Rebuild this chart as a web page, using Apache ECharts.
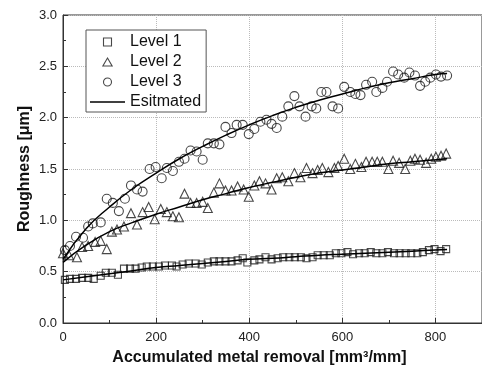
<!DOCTYPE html>
<html><head><meta charset="utf-8">
<script src="https://cdn.jsdelivr.net/npm/echarts@6/dist/echarts.min.js"></script>
<style>html,body{margin:0;padding:0;background:#fff}#c{width:482px;height:379px}</style>
</head><body><div id="c"></div>
<script>
// Level 1 (squares)
const level1X = [4,15,28,41,54,66,81,92,105,118,131,144,156,169,180,193,206,219,234,244,257,270,285,298,311,324,336,349,362,375,386,396,411,422,435,448,461,473,486,498,511,523,536,547,560,573,586,598,611,623,636,648,661,673,686,698,711,723,736,748,761,773,786,798,811,823];
const level1Y = [0.42,0.43,0.43,0.44,0.44,0.43,0.46,0.49,0.49,0.47,0.53,0.53,0.53,0.54,0.55,0.55,0.55,0.56,0.56,0.55,0.57,0.58,0.58,0.57,0.59,0.60,0.60,0.60,0.60,0.61,0.63,0.59,0.61,0.62,0.64,0.62,0.63,0.64,0.64,0.64,0.64,0.63,0.64,0.66,0.66,0.66,0.68,0.68,0.69,0.67,0.68,0.68,0.69,0.68,0.68,0.69,0.68,0.68,0.68,0.68,0.68,0.69,0.71,0.72,0.70,0.72];
// Level 2 (triangles)
const level2X = [0,13,30,41,54,69,81,94,105,116,131,146,159,171,184,197,210,223,236,249,261,274,287,300,311,324,336,349,362,375,388,399,411,422,435,448,459,471,484,497,510,523,536,547,557,570,583,591,604,617,628,641,651,664,675,686,699,709,722,735,746,756,767,780,791,801,812,823];
const level2Y = [0.68,0.66,0.64,0.74,0.75,0.79,0.80,0.72,0.89,0.91,0.94,1.07,0.96,1.08,1.13,1.01,1.11,1.08,1.04,1.03,1.26,1.17,1.17,1.18,1.12,1.27,1.36,1.29,1.29,1.33,1.30,1.23,1.34,1.38,1.36,1.30,1.41,1.42,1.38,1.46,1.42,1.51,1.46,1.49,1.51,1.47,1.51,1.53,1.60,1.50,1.55,1.52,1.57,1.57,1.57,1.57,1.50,1.58,1.56,1.50,1.58,1.60,1.59,1.56,1.60,1.62,1.63,1.65];
// Level 3 (circles)
const level3X = [4,15,28,43,54,64,81,94,107,120,133,146,159,171,186,199,212,223,236,249,261,274,287,300,311,324,336,349,362,373,386,399,411,424,437,448,459,471,484,497,508,521,534,544,555,566,579,591,604,617,628,639,651,664,673,686,696,709,720,733,744,756,767,778,789,801,812,825];
const level3Y = [0.71,0.75,0.84,0.83,0.94,0.97,0.98,1.21,1.17,1.09,1.21,1.34,1.30,1.28,1.50,1.52,1.41,1.51,1.48,1.57,1.60,1.68,1.67,1.59,1.75,1.75,1.74,1.91,1.85,1.93,1.93,1.84,1.89,1.96,1.98,1.94,1.90,2.01,2.11,2.21,2.11,2.01,2.11,2.09,2.25,2.25,2.11,2.09,2.30,2.25,2.23,2.22,2.32,2.35,2.25,2.29,2.35,2.45,2.42,2.39,2.44,2.41,2.31,2.35,2.39,2.42,2.40,2.41];
// Estimated curves
const estX = [0,50,100,150,200,250,300,350,400,450,500,550,600,650,700,750,800,825];
const est1Y = [0.42,0.45,0.48,0.51,0.54,0.56,0.58,0.60,0.62,0.63,0.645,0.66,0.67,0.68,0.69,0.70,0.71,0.715];
const est2Y = [0.59,0.76,0.89,0.98,1.06,1.13,1.20,1.26,1.32,1.37,1.42,1.46,1.49,1.52,1.55,1.57,1.59,1.60];
const est3Y = [0.62,0.92,1.13,1.31,1.46,1.60,1.72,1.83,1.93,2.02,2.10,2.17,2.23,2.29,2.34,2.38,2.42,2.43];
const xTicks = [0,200,400,600,800];
const yTicks = [0.0,0.5,1.0,1.5,2.0,2.5,3.0];

const zip = (xs, ys) => xs.map((x, i) => [x, ys[i]]);
const mk = {color:'rgba(255,255,255,0)', borderColor:'#1a1a1a', borderWidth:1.1};
const legendMk = {color:'rgba(255,255,255,0)', borderColor:'#1a1a1a', borderWidth:1.1};
const chart = echarts.init(document.getElementById('c'));
const axisFont = {fontFamily:'Liberation Sans, Arial, sans-serif', fontSize:13, color:'#222'};
chart.setOption({
  animation:false,
  grid:{left:63, top:15, width:421, height:308, show:true, borderColor:'#333', borderWidth:1, backgroundColor:'#fff'},
  legend:{
    data:[
      {name:'Level 1', icon:'path://M0,0H10V10H0Z', itemStyle:legendMk},
      {name:'Level 2', icon:'path://M5,0L10.5,9.5H-0.5Z', itemStyle:legendMk},
      {name:'Level 3', icon:'circle', itemStyle:legendMk},
      {name:'Esitmated', icon:'path://M0,0H35V1.4H0Z', itemStyle:{color:'#000', borderWidth:0}}
    ],
    orient:'vertical', left:86, top:30, padding:[4,5,2,4], itemGap:4,
    itemWidth:35, itemHeight:8, symbolKeepAspect:true,
    borderColor:'#555', borderWidth:1, backgroundColor:'#fff',
    textStyle:{fontFamily:'Liberation Sans, Arial, sans-serif', fontSize:16, color:'#111', lineHeight:16}
  },
  xAxis:{
    type:'value', min:0, max:900, interval:200,
    name:'Accumulated metal removal [mm³/mm]', nameLocation:'middle', nameGap:27, nameMoveOverlap:false,
    nameTextStyle:{fontFamily:'Liberation Sans, Arial, sans-serif', fontSize:16, fontWeight:'bold', color:'#111', padding:[0,26,0,0]},
    axisLine:{lineStyle:{color:'#333', width:1}},
    axisTick:{inside:true, length:5, lineStyle:{color:'#333'}},
    minorTick:{show:true, splitNumber:2, length:3, lineStyle:{color:'#333'}},
    axisLabel:{...axisFont, margin:8, showMaxLabel:false, formatter:v => xTicks.includes(v) ? String(v) : ''},
    splitLine:{show:true, lineStyle:{color:'#bbb', type:'dotted'}}
  },
  yAxis:{
    type:'value', min:0, max:3, interval:0.5,
    name:'Roughness [μm]', nameLocation:'middle', nameGap:30, nameMoveOverlap:false,
    nameTextStyle:{fontFamily:'Liberation Sans, Arial, sans-serif', fontSize:16, fontWeight:'bold', color:'#111'},
    axisLine:{lineStyle:{color:'#333', width:1}},
    axisTick:{inside:true, length:5, lineStyle:{color:'#333'}},
    minorTick:{show:true, splitNumber:2, length:3, lineStyle:{color:'#333'}},
    axisLabel:{...axisFont, margin:6, formatter:v => yTicks.find(t => Math.abs(t - v) < 1e-6) !== undefined ? v.toFixed(1) : ''},
    splitLine:{show:true, lineStyle:{color:'#bbb', type:'dotted'}}
  },
  series:[
    {name:'Level 1', type:'scatter', symbol:'rect', symbolSize:7, itemStyle:mk, data:zip(level1X, level1Y)},
    {name:'Level 2', type:'scatter', symbol:'triangle', symbolSize:9, itemStyle:mk, data:zip(level2X, level2Y)},
    {name:'Level 3', type:'scatter', symbol:'circle', symbolSize:9, itemStyle:mk, data:zip(level3X, level3Y)},
    {name:'Esitmated', type:'line', smooth:true, symbol:'none', lineStyle:{color:'#000', width:1.5}, itemStyle:{color:'#000'}, data:zip(estX, est1Y)},
    {name:'Esitmated', type:'line', smooth:true, symbol:'none', lineStyle:{color:'#000', width:1.5}, itemStyle:{color:'#000'}, data:zip(estX, est2Y)},
    {name:'Esitmated', type:'line', smooth:true, symbol:'none', lineStyle:{color:'#000', width:1.5}, itemStyle:{color:'#000'}, data:zip(estX, est3Y)}
  ]
});
</script></body></html>
